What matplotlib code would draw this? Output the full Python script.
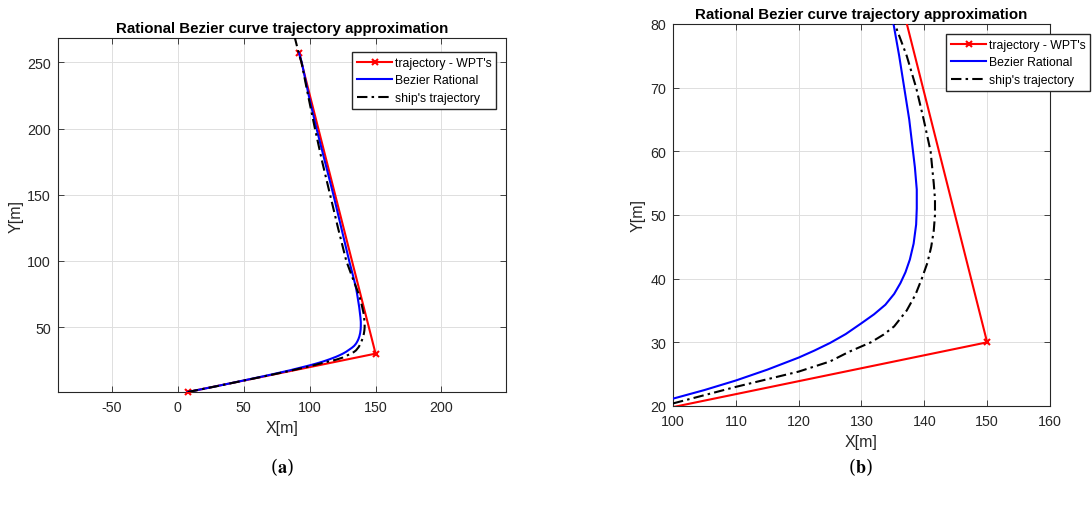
import matplotlib
matplotlib.use('Agg')
import matplotlib.pyplot as plt

plt.rcParams['font.family'] = ['Liberation Sans', 'DejaVu Sans']
plt.rcParams['mathtext.fontset'] = 'stix'
plt.rcParams['axes.unicode_minus'] = False

# waypoints
wpt_x = [7.5, 150, 92]
wpt_y = [1, 30, 257]

# rational bezier curve
bez_x = [7.5, 30, 50, 70, 85, 100, 105, 110, 115, 120, 122.5, 125, 127.5, 130, 132, 133.8,
         135.2, 136.2, 137.0, 137.7, 138.3, 138.7, 138.8, 138.8, 138.5, 138.2, 137.6,
         136.8, 136.0, 135.1, 132.6, 130.0, 124.0, 118.0, 111.6, 105.2, 99.3, 94.0, 92.0]
bez_y = [1, 5.55, 9.75, 14.0, 17.4, 21.15, 22.5, 24.0, 25.7, 27.6, 28.7, 29.9, 31.3, 33.0, 34.4, 35.9,
         37.6, 39.3, 41.0, 43.0, 45.5, 48.5, 51.0, 54.0, 57.5, 60.0, 65.0,
         70.0, 75.0, 80.0, 90.0, 100.0, 125.0, 150.0, 175.0, 200.0, 225.0, 250.0, 257.0]

# ship's trajectory
ship_x = [7.5, 30, 50, 70, 85, 100, 105, 110, 115, 120, 125, 128, 131.5, 133.5, 135.2,
          137.2, 138.6, 139.6, 140.5, 141.1, 141.5, 141.7, 141.7, 141.5, 141.0, 139.9,
          138.7, 137.2, 135.3, 131.5, 127.8, 121.5, 115.5, 109.5, 104.0, 98.8, 93.8, 91.7, 88.8]
ship_y = [1, 5.5, 9.65, 13.8, 17.0, 20.4, 21.7, 23.0, 24.2, 25.4, 27.0, 28.5, 30.0, 31.2, 32.5,
          35.0, 37.5, 40.0, 42.5, 45.0, 47.5, 50.0, 52.5, 55.0, 60.0, 65.0,
          70.0, 75.0, 80.0, 90.0, 100.0, 125.0, 150.0, 175.0, 200.0, 225.0, 250.0, 257.0, 268.5]

fig = plt.figure(figsize=(10.92, 5.06), dpi=100)
ax1 = fig.add_axes([0.0531, 0.2233, 0.4103, 0.6996])
ax2 = fig.add_axes([0.6163, 0.1957, 0.3452, 0.7549])


def draw(ax, clip):
    ax.plot(wpt_x, wpt_y, color='#ff0000', lw=1.5, marker='x', ms=5, mew=1.5,
            label="trajectory - WPT's", clip_on=clip, zorder=3)
    ax.plot(bez_x, bez_y, color='#0000ff', lw=1.5, label='Bezier Rational', zorder=4)
    ax.plot(ship_x, ship_y, color='black', lw=1.5, ls=(0, (5, 2, 1.2, 2)),
            label="ship's trajectory", zorder=5)
    ax.set_title('Rational Bezier curve trajectory approximation', fontsize=10.8,
                 fontweight='bold', pad=4)
    ax.set_xlabel('X[m]', fontsize=11.5, color='#262626', labelpad=4)
    ax.set_ylabel('Y[m]', fontsize=11.5, color='#262626', labelpad=3)
    ax.grid(True, color='#dedede', lw=0.7)
    ax.set_axisbelow(True)
    ax.tick_params(direction='in', top=True, right=True, labelsize=10.3, colors='#262626',
                   length=4, width=0.6)
    ax.tick_params(axis='x', pad=6)
    ax.tick_params(axis='y', pad=5)
    for s in ax.spines.values():
        s.set_color('#262626')
        s.set_linewidth(0.8)


leg_kw = dict(fontsize=8.8, frameon=True, fancybox=False, edgecolor='#262626', framealpha=1,
              borderpad=0.4, labelspacing=0.45, handlelength=2.9, handletextpad=0.2,
              borderaxespad=0)

draw(ax1, False)
ax1.set_xlim(-91, 249)
ax1.set_ylim(1, 268.5)
ax1.set_xticks([-50, 0, 50, 100, 150, 200])
ax1.set_yticks([50, 100, 150, 200, 250])
ax1.legend(loc='upper left', bbox_to_anchor=(352 / 1092, 1 - 53 / 506),
           bbox_transform=fig.transFigure, **leg_kw)

draw(ax2, True)
ax2.set_xlim(100, 160)
ax2.set_ylim(20, 80)
ax2.set_xticks(range(100, 161, 10))
ax2.set_yticks(range(20, 81, 10))
ax2.legend(loc='upper left', bbox_to_anchor=(946 / 1092, 1 - 35 / 506),
           bbox_transform=fig.transFigure, **leg_kw)

fig.text(282 / 1092, 1 - 467 / 506, r'($\mathbf{a}$)', ha='center', va='center',
         fontsize=13, family='DejaVu Serif', math_fontfamily='stix')
fig.text(860 / 1092, 1 - 467 / 506, r'($\mathbf{b}$)', ha='center', va='center',
         fontsize=13, family='DejaVu Serif', math_fontfamily='stix')

fig.savefig('out.png', dpi=100)
